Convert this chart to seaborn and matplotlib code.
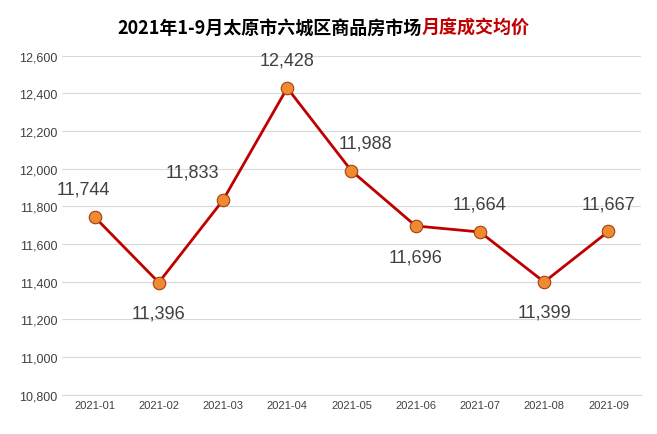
import matplotlib
matplotlib.use("Agg")
import matplotlib.pyplot as plt
import seaborn as sns
import pandas as pd

# Data
months = ["2021-01", "2021-02", "2021-03", "2021-04", "2021-05",
          "2021-06", "2021-07", "2021-08", "2021-09"]
prices = [11744, 11396, 11833, 12428, 11988, 11696, 11664, 11399, 11667]
label_pos = ["up", "down", "up", "up", "up", "down", "up", "down", "up"]
label_dx = [-8, 0, -22, 0, 10, 0, 0, 0, 0]

sns.set_style("white")
plt.rcParams['font.family'] = ['Noto Sans CJK SC', 'DejaVu Sans']
num_font = ['Liberation Sans', 'DejaVu Sans']

df = pd.DataFrame({"month": months, "price": prices})
df["x"] = range(len(months))

fig = plt.figure(figsize=(6.57, 4.35), dpi=100)
ax = fig.add_axes([0.095, 0.09, 0.88, 0.78])

sns.lineplot(data=df, x="x", y="price", ax=ax, color="#c00000", linewidth=2,
             marker="o", markersize=9, markerfacecolor="#f08a30",
             markeredgecolor="#a04010", markeredgewidth=0.8)

for x, y, p, dx in zip(df["x"], prices, label_pos, label_dx):
    dy = 20 if p == "up" else -22
    ax.annotate(f"{y:,}", (x, y), xytext=(dx, dy), textcoords="offset points",
                ha="center", va="center", fontsize=13, color="#404040",
                family=num_font)

ax.set_xlim(-0.5, len(months) - 0.5)
ax.set_ylim(10800, 12600)
ax.set_yticks(range(10800, 12601, 200))
ax.set_yticklabels([f"{v:,}" for v in range(10800, 12601, 200)], fontsize=9,
                   color="#404040", family=num_font)
ax.set_xticks(df["x"])
ax.set_xticklabels(months, fontsize=8, color="#404040", family=num_font)
ax.set_xlabel("")
ax.set_ylabel("")
ax.grid(axis="y", color="#d9d9d9", linewidth=0.8)
ax.set_axisbelow(True)
for s in ["top", "right", "left"]:
    ax.spines[s].set_visible(False)
ax.spines["bottom"].set_color("#d9d9d9")
ax.tick_params(length=0)

fig.text(0.642, 0.935, "2021年1-9月太原市六城区商品房市场", ha="right", va="center",
         fontsize=13, fontweight="bold", color="black")
fig.text(0.642, 0.935, "月度成交均价", ha="left", va="center",
         fontsize=13, fontweight="bold", color="#c00000")

fig.savefig("out.png", dpi=100)
